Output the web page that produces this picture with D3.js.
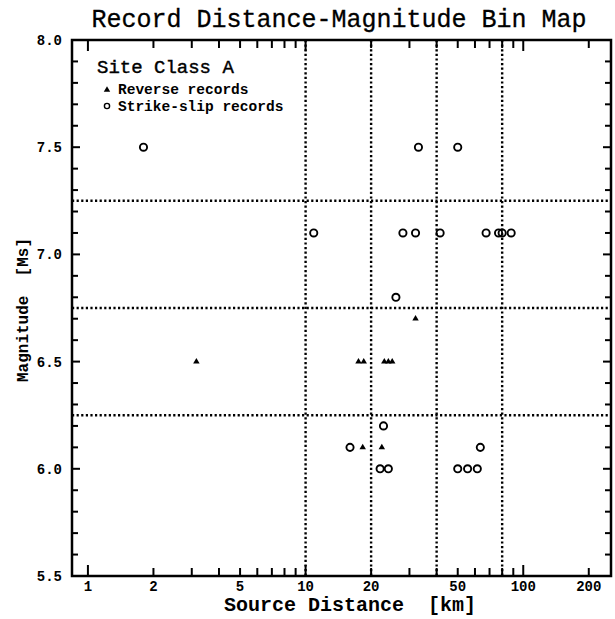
<!DOCTYPE html>
<html>
<head>
<meta charset="utf-8">
<script src="https://cdn.jsdelivr.net/npm/d3@7"></script>
<style>
	body { margin: 0; background: #fff; }
	text { fill: #000; }
	.tick-label { font-family: "Liberation Mono", monospace; font-weight: bold; font-size: 14px; }
</style>
</head>
<body>
<div id="chart-area"></div>
<script>

// SVG Size
var width = 615,
	height = 619;

// strike-slip records (circles): distance [km], magnitude [Ms]
var strikeDist = [1.8, 33, 50, 10.9, 28, 32, 41.5, 67.5, 77, 80, 88, 26, 22.8, 16, 63.5, 22, 24, 50, 55.5, 61.5];
var strikeMag  = [7.5, 7.5, 7.5, 7.1, 7.1, 7.1, 7.1, 7.1, 7.1, 7.1, 7.1, 6.8, 6.2, 6.1, 6.1, 6.0, 6.0, 6.0, 6.0, 6.0];

// reverse records (triangles)
var reverseDist = [3.15, 17.5, 18.5, 23, 24, 25, 32, 18.3, 22.4];
var reverseMag  = [6.5, 6.5, 6.5, 6.5, 6.5, 6.5, 6.7, 6.1, 6.1];

// bin boundaries
var distBins = [10, 20, 40, 80];
var magBins = [7.25, 6.75, 6.25];

// axis ticks
var xTickLabels = [1, 2, 5, 10, 20, 50, 100, 200];
var xMinorTicks = [1, 2, 3, 4, 5, 6, 7, 8, 9, 10, 20, 30, 40, 50, 60, 70, 80, 90, 100, 200];
var yTickLabels = [5.5, 6.0, 6.5, 7.0, 7.5, 8.0];
var yMinorTicks = d3.range(55, 81).map(d => d / 10);

var margin = {top: 40, right: 4, bottom: 43, left: 72};
var w = width - margin.left - margin.right,
	h = height - margin.top - margin.bottom;

var svg = d3.select("#chart-area").append("svg")
	.attr("width", width)
	.attr("height", height);

var g = svg.append("g")
	.attr("transform", "translate(" + margin.left + "," + margin.top + ")");

var x = d3.scaleLog()
	.domain([0.845, 253])
	.range([0, w]);

var y = d3.scaleLinear()
	.domain([5.5, 8.0])
	.range([h, 0]);

// dotted bin lines
g.selectAll(".vbin")
	.data(distBins)
	.enter().append("line")
	.attr("x1", d => x(d)).attr("x2", d => x(d))
	.attr("y1", 0).attr("y2", h)
	.attr("stroke", "#000")
	.attr("stroke-width", 2.4)
	.attr("stroke-dasharray", "2.2,2.4");

g.selectAll(".hbin")
	.data(magBins)
	.enter().append("line")
	.attr("x1", 0).attr("x2", w)
	.attr("y1", d => y(d)).attr("y2", d => y(d))
	.attr("stroke", "#000")
	.attr("stroke-width", 2.4)
	.attr("stroke-dasharray", "2.2,2.4");

// inward ticks on all four sides
var xMajor = [1, 10, 100];
var xTickLen = d => xMajor.includes(d) ? 11 : 8;
var yTickLen = d => (Math.round(d * 10) % 5 === 0) ? 8 : 6;

g.selectAll(".xtick-b")
	.data(xMinorTicks)
	.enter().append("line")
	.attr("x1", d => x(d)).attr("x2", d => x(d))
	.attr("y1", h).attr("y2", d => h - xTickLen(d))
	.attr("stroke", "#000").attr("stroke-width", 2);

g.selectAll(".xtick-t")
	.data(xMinorTicks)
	.enter().append("line")
	.attr("x1", d => x(d)).attr("x2", d => x(d))
	.attr("y1", 0).attr("y2", d => xTickLen(d))
	.attr("stroke", "#000").attr("stroke-width", 2);

g.selectAll(".ytick-l")
	.data(yMinorTicks)
	.enter().append("line")
	.attr("x1", 0).attr("x2", d => yTickLen(d))
	.attr("y1", d => y(d)).attr("y2", d => y(d))
	.attr("stroke", "#000").attr("stroke-width", 2);

g.selectAll(".ytick-r")
	.data(yMinorTicks)
	.enter().append("line")
	.attr("x1", w).attr("x2", d => w - yTickLen(d))
	.attr("y1", d => y(d)).attr("y2", d => y(d))
	.attr("stroke", "#000").attr("stroke-width", 2);

// frame
g.append("rect")
	.attr("width", w).attr("height", h)
	.attr("fill", "none")
	.attr("stroke", "#000")
	.attr("stroke-width", 2.5);

// tick labels
g.selectAll(".xlab")
	.data(xTickLabels)
	.enter().append("text")
	.attr("class", "tick-label")
	.attr("x", d => x(d))
	.attr("y", h + 15)
	.attr("text-anchor", "middle")
	.text(d => d);

g.selectAll(".ylab")
	.data(yTickLabels)
	.enter().append("text")
	.attr("class", "tick-label")
	.attr("x", -10)
	.attr("y", d => y(d) + 5)
	.attr("text-anchor", "end")
	.text(d => d.toFixed(1));

// strike-slip circles
var strike = strikeDist.map((d, i) => ({dist: d, mag: strikeMag[i]}));
g.selectAll(".strike")
	.data(strike)
	.enter().append("circle")
	.attr("cx", d => x(d.dist))
	.attr("cy", d => y(d.mag))
	.attr("r", 3.6)
	.attr("fill", "none")
	.attr("stroke", "#000")
	.attr("stroke-width", 1.9);

// reverse triangles
var reverse = reverseDist.map((d, i) => ({dist: d, mag: reverseMag[i]}));
var tri = d3.symbol().type(d3.symbolTriangle).size(18);
g.selectAll(".reverse")
	.data(reverse)
	.enter().append("path")
	.attr("d", tri)
	.attr("transform", d => "translate(" + x(d.dist) + "," + y(d.mag) + ")")
	.attr("fill", "#000");

// legend
g.append("text")
	.attr("x", 25).attr("y", 33)
	.style("font-family", "Liberation Mono, monospace")
	.style("font-size", "19px")
	.style("stroke", "#000")
	.style("stroke-width", 0.4)
	.text("Site Class A");

g.append("path")
	.attr("d", tri)
	.attr("transform", "translate(35,50)")
	.attr("fill", "#000");
g.append("text")
	.attr("x", 46).attr("y", 54)
	.style("font-family", "Liberation Mono, monospace")
	.style("font-weight", "bold")
	.style("font-size", "14.5px")
	.text("Reverse records");

g.append("circle")
	.attr("cx", 35).attr("cy", 66)
	.attr("r", 2.6)
	.attr("fill", "none")
	.attr("stroke", "#000")
	.attr("stroke-width", 1.4);
g.append("text")
	.attr("x", 46).attr("y", 71)
	.style("font-family", "Liberation Mono, monospace")
	.style("font-weight", "bold")
	.style("font-size", "14.5px")
	.text("Strike-slip records");

// title and axis labels
svg.append("text")
	.attr("x", 339).attr("y", 27)
	.attr("text-anchor", "middle")
	.style("font-family", "Liberation Mono, monospace")
	.style("font-size", "25px")
	.style("stroke", "#000")
	.style("stroke-width", 0.3)
	.text("Record Distance-Magnitude Bin Map");

svg.append("text")
	.attr("x", 350).attr("y", 611)
	.attr("text-anchor", "middle")
	.style("font-family", "Liberation Mono, monospace")
	.style("font-weight", "bold")
	.style("font-size", "20px")
	.style("white-space", "pre")
	.text("Source Distance  [km]");

svg.append("text")
	.attr("transform", "translate(28,310) rotate(-90)")
	.attr("text-anchor", "middle")
	.style("font-family", "Liberation Mono, monospace")
	.style("font-weight", "bold")
	.style("font-size", "16px")
	.style("white-space", "pre")
	.text("Magnitude  [Ms]");

</script>
</body>
</html>
